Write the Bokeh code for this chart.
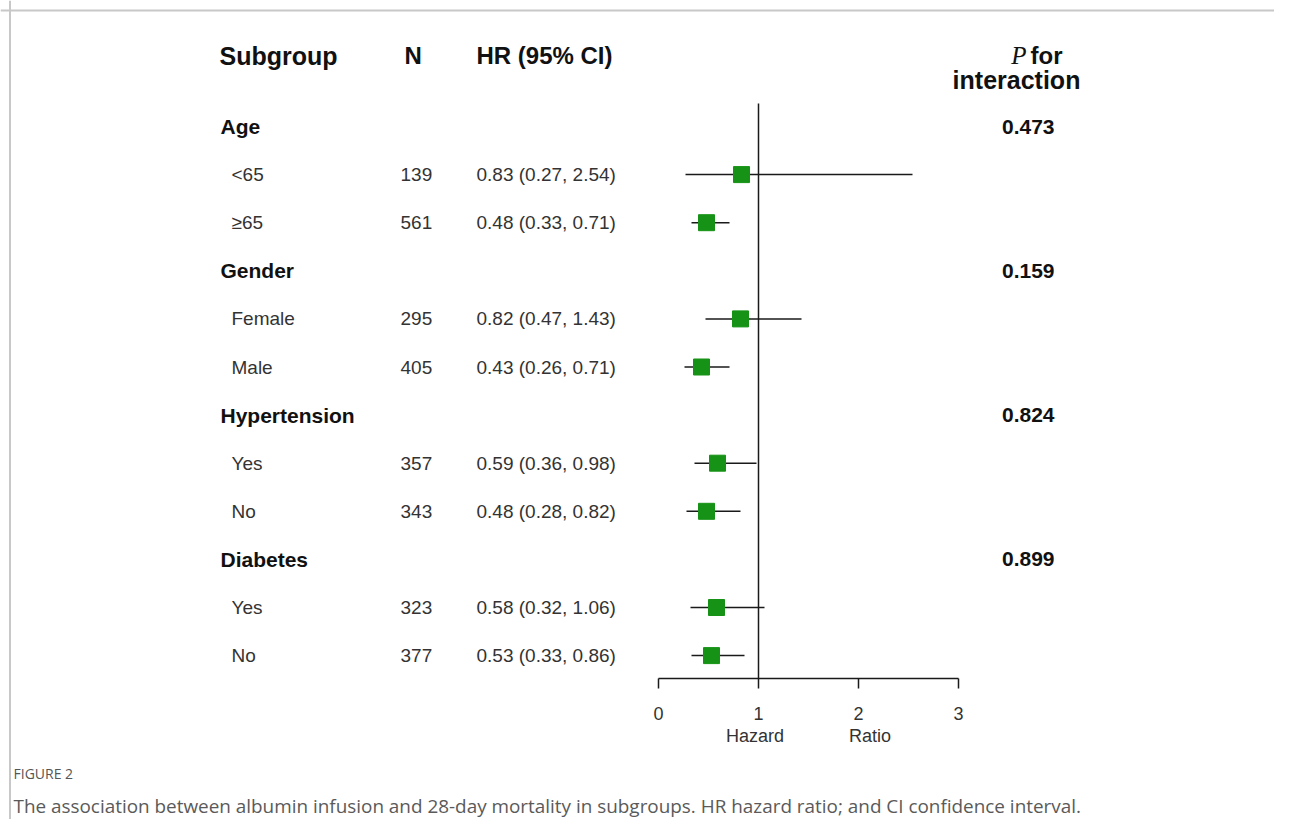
from bokeh.plotting import figure
from bokeh.models import Range1d, LinearAxis, FixedTicker, Span, ColumnDataSource
from bokeh.core.properties import value
from bokeh.embed import file_html
from bokeh.resources import INLINE

# ---------------- data ----------------
row_labels = ["Age", "<65", "\u226565", "Gender", "Female", "Male",
              "Hypertension", "Yes", "No", "Diabetes", "Yes", "No"]
row_is_group = [True, False, False, True, False, False,
                True, False, False, True, False, False]
row_n = ["", "139", "561", "", "295", "405", "", "357", "343", "", "323", "377"]
group_p = ["0.473", "0.159", "0.824", "0.899"]

sub_hr = [0.83, 0.48, 0.82, 0.43, 0.59, 0.48, 0.58, 0.53]
sub_lo = [0.27, 0.33, 0.47, 0.26, 0.36, 0.28, 0.32, 0.33]
sub_hi = [2.54, 0.71, 1.43, 0.71, 0.98, 0.82, 1.06, 0.86]

tick_vals = [0, 1, 2, 3]
null_hr = 1

headers = ["Subgroup", "N", "HR (95% CI)"]
caption_label = "FIGURE 2"
caption_text = ("The association between albumin infusion and 28-day mortality in subgroups. "
                "HR hazard ratio; and CI confidence interval.")

# ---------------- layout helpers (screen pixel -> data) ----------------
W, H = 1274, 819
X0_PX = 658.0      # pixel x of HR = 0
PX_PER_HR = 100.0
ROW0_PX = 126.0    # pixel y of first row
ROW_PX = 48.1

def X(px):
    return (px - X0_PX) / PX_PER_HR

def Y(py):
    return (py - ROW0_PX) / ROW_PX

x_start = X(0)
x_end = X(W)
y_top = Y(0)
y_bottom = Y(H)

p = figure(width=W, height=H, x_range=Range1d(x_start, x_end),
           y_range=Range1d(y_bottom, y_top),
           x_axis_location=None, y_axis_location=None,
           min_border=0, outline_line_color=None,
           toolbar_location=None, output_backend="svg")
p.grid.visible = False
p.background_fill_color = "white"
p.border_fill_color = "white"

FONT = value("Liberation Sans")

# page frame (top and left rules)
p.add_layout(Span(location=Y(10), dimension="width", line_color="#c8c8c8", line_width=2))
p.add_layout(Span(location=X(9.5), dimension="height", line_color="#c8c8c8", line_width=2))

# ---------------- rows ----------------
rows = list(range(len(row_labels)))
grp_idx = [i for i in rows if row_is_group[i]]
sub_idx = [i for i in rows if not row_is_group[i]]

# header texts
p.text(x=[X(219)], y=[Y(55)], text=[headers[0]],
       text_font=FONT, text_font_style="bold", text_font_size="25px",
       text_color="#111111", text_baseline="middle", text_align="left")
p.text(x=[X(404), X(476)], y=[Y(55)] * 2, text=headers[1:],
       text_font=FONT, text_font_style="bold", text_font_size="24px",
       text_color="#111111", text_baseline="middle", text_align="left")
p.text(x=[X(1026)], y=[Y(55)], text=["P"], text_font=value("Liberation Serif"),
       text_font_style="italic", text_font_size="25px", text_color="#111111",
       text_baseline="middle", text_align="right")
p.text(x=[X(1030)], y=[Y(55)], text=["for"], text_font=FONT, text_font_style="bold",
       text_font_size="24px", text_color="#111111", text_baseline="middle", text_align="left")
p.text(x=[X(1016)], y=[Y(79)], text=["interaction"], text_font=FONT, text_font_style="bold",
       text_font_size="25px", text_color="#111111", text_baseline="middle", text_align="center")

# group names
p.text(x=[X(220)] * len(grp_idx), y=grp_idx, text=[row_labels[i] for i in grp_idx],
       text_font=FONT, text_font_style="bold", text_font_size="21px",
       text_color="#111111", text_baseline="middle", text_align="left")
# group p values
p.text(x=[X(1054)] * len(grp_idx), y=grp_idx, text=group_p,
       text_font=FONT, text_font_style="bold", text_font_size="21px",
       text_color="#111111", text_baseline="middle", text_align="right")

# subgroup names, N, HR text
p.text(x=[X(231)] * len(sub_idx), y=sub_idx, text=[row_labels[i] for i in sub_idx],
       text_font=FONT, text_font_size="19px", text_color="#333333",
       text_baseline="middle", text_align="left")
p.text(x=[X(400)] * len(sub_idx), y=sub_idx, text=[row_n[i] for i in sub_idx],
       text_font=FONT, text_font_size="19px", text_color="#333333",
       text_baseline="middle", text_align="left")
hr_text = [f"{h:.2f} ({l:.2f}, {u:.2f})" for h, l, u in zip(sub_hr, sub_lo, sub_hi)]
p.text(x=[X(476)] * len(sub_idx), y=sub_idx, text=hr_text,
       text_font=FONT, text_font_size="19px", text_color="#333333",
       text_baseline="middle", text_align="left")

# ---------------- forest marks ----------------
axis_row = Y(678)
p.segment(x0=[null_hr], y0=[Y(103)], x1=[null_hr], y1=[axis_row],
          line_color="#1a1a1a", line_width=1.5)

src = ColumnDataSource(dict(y=sub_idx, hr=sub_hr, lo=sub_lo, hi=sub_hi))
p.segment(x0="lo", y0="y", x1="hi", y1="y", source=src,
          line_color="#1a1a1a", line_width=1.5)
p.scatter(x="hr", y="y", source=src, marker="square", size=16,
          fill_color="#169316", line_color="#169316")

# ---------------- axis ----------------
ax = LinearAxis(fixed_location=axis_row, bounds=(min(tick_vals), max(tick_vals)),
                ticker=FixedTicker(ticks=tick_vals, minor_ticks=[]))
ax.axis_line_color = "#1a1a1a"
ax.axis_line_width = 1.5
ax.major_tick_line_color = "#1a1a1a"
ax.major_tick_line_width = 1.5
ax.major_tick_in = 0
ax.major_tick_out = 10
ax.minor_tick_line_color = None
ax.major_label_text_font = "Liberation Sans"
ax.major_label_text_font_size = "18px"
ax.major_label_text_color = "#333333"
ax.major_label_standoff = 18
ax.axis_label = "Hazard" + "\u00a0" * 13 + "Ratio"
ax.axis_label_text_font = "Liberation Sans"
ax.axis_label_text_font_style = "normal"
ax.axis_label_text_font_size = "18px"
ax.axis_label_text_color = "#333333"
ax.axis_label_standoff = 3
p.add_layout(ax, "below")

# ---------------- caption ----------------
p.text(x=[X(13)], y=[Y(773)], text=[caption_label], text_font=value("Open Sans"),
       text_font_size="14px", text_color="#555555", text_baseline="middle", text_align="left")
p.text(x=[X(13)], y=[Y(805)], text=[caption_text], text_font=value("Open Sans"),
       text_font_size="18.9px", text_color="#5a5a5a", text_baseline="middle", text_align="left")

open("out.html", "w").write(file_html(p, INLINE))
